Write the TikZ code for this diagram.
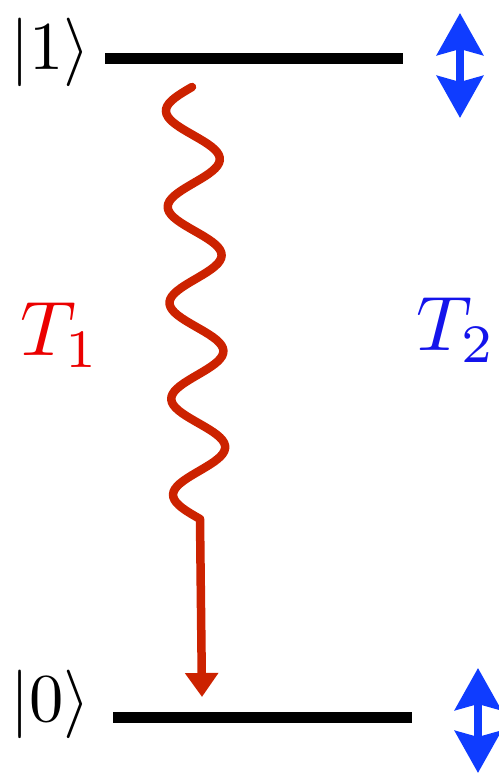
\documentclass[tikz,border=0pt]{standalone}
\usepackage{amsmath,amssymb}
\usepackage{tikz}
\usepackage{xcolor}
\usetikzlibrary{arrows.meta,calc,positioning}
\definecolor{wavered}{RGB}{204,34,0}
\definecolor{labelred}{RGB}{235,0,0}
\definecolor{arrowblue}{RGB}{15,60,255}
\definecolor{labelblue}{RGB}{20,20,235}

\begin{document}
\begin{tikzpicture}[
      level/.style={line width=0.22cm, black},
      ket/.style={inner sep=0pt, scale=3.9},
      tlabel/.style={inner sep=0pt, scale=4.4},
      decay/.style={wavered, line width=0.17cm, line cap=round, line join=round},
      dephase/.style={{Stealth[length=0.84cm, width=0.92cm, inset=0.12cm]}-{Stealth[length=0.84cm, width=0.92cm, inset=0.12cm]}, arrowblue, line width=0.16cm}
  ]
    \clip (0,0) rectangle (9.98,15.46);
    \coordinate (top-l) at (2.10,14.28);
    \coordinate (top-r) at (8.06,14.28);
    \coordinate (bot-l) at (2.26,1.12);
    \coordinate (bot-r) at (8.24,1.12);
    \node[ket] (ket1) at (1.00,14.42) {$|1\rangle$};
    \node[ket] (ket0) at (1.00,1.38) {$|0\rangle$};
    \node[tlabel, text=labelred] (t1) at (1.20,8.76) {$T_1$};
    \node[tlabel, text=labelblue] (t2) at (9.12,8.86) {$T_2$};
    \draw[level] (top-l) -- (top-r);
    \draw[level] (bot-l) -- (bot-r);
    \coordinate (wstart) at (3.84,13.72);
    \coordinate (wkink) at (4.00,5.08);
    \coordinate (wtip) at (4.04,1.52);
    \draw[decay, -{Triangle[length=0.48cm, width=0.64cm]}] (wstart)
      -- plot[domain=0:8.64, samples=160] ({3.84+0.16*\x/8.64-0.53*sin(\x/1.92*360)}, {13.72-\x})
      -- (wkink) -- (wtip);
    \coordinate (up-a) at (9.20,15.20);
    \coordinate (up-b) at (9.20,13.10);
    \coordinate (dn-a) at (9.56,2.10);
    \coordinate (dn-b) at (9.56,0.00);
    \draw[dephase] (up-a) -- (up-b);
    \draw[dephase] (dn-a) -- (dn-b);
  \end{tikzpicture}
\end{document}
